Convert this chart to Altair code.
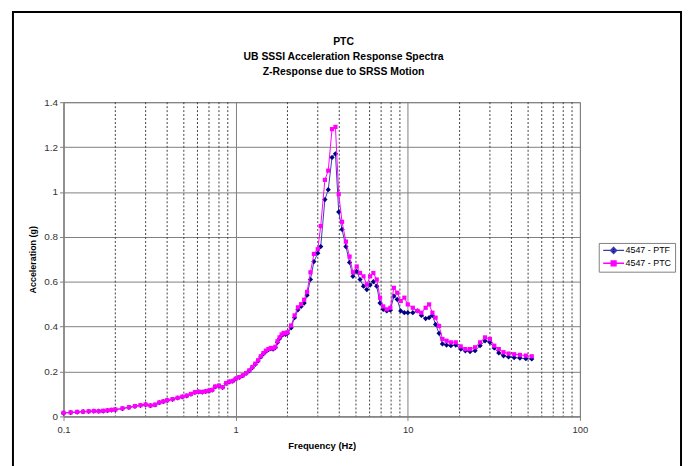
import altair as alt
import pandas as pd

freq = [0.10, 0.11, 0.12, 0.13, 0.14, 0.15, 0.16, 0.17, 0.18, 0.19,
        0.20, 0.22, 0.24, 0.26, 0.28, 0.30, 0.32, 0.34, 0.36, 0.38,
        0.40, 0.43, 0.46, 0.49, 0.52, 0.55, 0.58, 0.61, 0.64, 0.67,
        0.70, 0.73, 0.76, 0.80, 0.84, 0.88, 0.92, 0.96, 1.00, 1.05,
        1.10, 1.15, 1.20, 1.25, 1.30, 1.35, 1.40, 1.45, 1.50, 1.55,
        1.60, 1.65, 1.70, 1.75, 1.80, 1.85, 1.90, 1.95, 2.00, 2.10,
        2.20, 2.30, 2.40, 2.50, 2.60, 2.72, 2.85, 3.00, 3.12, 3.30,
        3.45, 3.63, 3.80, 3.97, 4.15, 4.37, 4.59, 4.80, 5.05, 5.28,
        5.53, 5.78, 6.04, 6.31, 6.60, 6.90, 7.20, 7.55, 7.92, 8.30,
        8.68, 9.10, 9.55, 10.0, 10.7, 11.4, 12.0, 12.7, 13.3, 13.9,
        14.5, 15.2, 15.9, 16.8, 17.8, 19.0, 20.3, 21.6, 23.0, 24.6,
        26.3, 28.1, 30.0, 31.8, 33.8, 36.0, 38.5, 41.5, 44.8, 48.5, 52.5]

ptc = [0.016, 0.018, 0.020, 0.021, 0.023, 0.024, 0.023, 0.025, 0.027, 0.029,
       0.031, 0.036, 0.041, 0.046, 0.050, 0.053, 0.049, 0.052, 0.062, 0.067,
       0.072, 0.077, 0.083, 0.088, 0.093, 0.100, 0.108, 0.110, 0.109, 0.112,
       0.115, 0.118, 0.133, 0.137, 0.130, 0.148, 0.155, 0.158, 0.168, 0.175,
       0.183, 0.193, 0.205, 0.220, 0.235, 0.250, 0.268, 0.282, 0.293, 0.300,
       0.305, 0.303, 0.310, 0.335, 0.352, 0.365, 0.372, 0.370, 0.375, 0.405,
       0.450, 0.486, 0.500, 0.520, 0.555, 0.642, 0.724, 0.745, 0.848, 1.054,
       1.095, 1.280, 1.290, 0.990, 0.867, 0.779, 0.712, 0.642, 0.668, 0.639,
       0.624, 0.587, 0.624, 0.639, 0.610, 0.529, 0.490, 0.477, 0.484, 0.573,
       0.551, 0.514, 0.529, 0.499, 0.484, 0.470, 0.462, 0.484, 0.499, 0.462,
       0.440, 0.403, 0.345, 0.337, 0.330, 0.330, 0.312, 0.300, 0.300, 0.308,
       0.330, 0.352, 0.345, 0.315, 0.300, 0.286, 0.280, 0.277, 0.274, 0.271, 0.268]

ptf = [0.015, 0.017, 0.019, 0.021, 0.022, 0.023, 0.023, 0.024, 0.026, 0.028,
       0.030, 0.035, 0.040, 0.045, 0.049, 0.052, 0.048, 0.051, 0.061, 0.066,
       0.071, 0.076, 0.082, 0.087, 0.092, 0.099, 0.107, 0.109, 0.108, 0.111,
       0.114, 0.117, 0.132, 0.136, 0.129, 0.147, 0.154, 0.157, 0.167, 0.174,
       0.182, 0.192, 0.203, 0.217, 0.232, 0.247, 0.265, 0.279, 0.290, 0.297,
       0.302, 0.300, 0.307, 0.330, 0.347, 0.360, 0.367, 0.365, 0.370, 0.395,
       0.440, 0.475, 0.490, 0.505, 0.540, 0.610, 0.690, 0.727, 0.757, 0.966,
       1.010, 1.154, 1.170, 0.911, 0.833, 0.757, 0.686, 0.624, 0.646, 0.610,
       0.580, 0.565, 0.585, 0.600, 0.580, 0.505, 0.477, 0.470, 0.473, 0.536,
       0.521, 0.470, 0.462, 0.462, 0.462, 0.470, 0.450, 0.436, 0.440, 0.450,
       0.410, 0.370, 0.323, 0.318, 0.315, 0.318, 0.300, 0.292, 0.289, 0.293,
       0.315, 0.337, 0.330, 0.305, 0.283, 0.270, 0.265, 0.262, 0.260, 0.257, 0.256]

series_names = ["4547 - PTF", "4547 - PTC"]
x_major = [0.1, 1, 10, 100]
x_minor = [0.2, 0.3, 0.4, 0.5, 0.6, 0.7, 0.8, 0.9,
           2, 3, 4, 5, 6, 7, 8, 9,
           20, 30, 40, 50, 60, 70, 80, 90]
y_ticks = [0, 0.2, 0.4, 0.6, 0.8, 1.0, 1.2, 1.4]
title_lines = ["PTC", "UB SSSI Acceleration Response Spectra", "Z-Response due to SRSS Motion"]

df = pd.DataFrame({
    "freq": freq + freq,
    "acc": ptf + ptc,
    "series": [series_names[0]] * len(freq) + [series_names[1]] * len(freq),
})

FONT = "Arial, Liberation Sans, sans-serif"

x_scale = alt.Scale(type="log", domain=[0.1, 100], nice=False)
y_scale = alt.Scale(domain=[0, 1.4], nice=False, zero=True)

x_axis = alt.Axis(values=x_major, format="~g", title="Frequency (Hz)", grid=True,
                  gridColor="#808080", gridWidth=1, domainColor="#808080",
                  tickColor="#808080", tickSize=4, labelFont=FONT, labelFontSize=9.5,
                  labelColor="#333333", labelPadding=4, titleFont=FONT,
                  titleFontSize=9.5, titleFontWeight="bold", titleColor="black",
                  titlePadding=7, labelFlush=False)
y_axis = alt.Axis(values=y_ticks, format="~g", title="Acceleration (g)", grid=True,
                  gridColor="#808080", gridWidth=1, domainColor="#808080",
                  tickColor="#808080", tickSize=4, labelFont=FONT, labelFontSize=10,
                  labelColor="#333333", labelPadding=2, titleFont=FONT,
                  titleFontSize=9, titleFontWeight="bold", titleColor="black",
                  titlePadding=6)

X = alt.X("freq:Q", scale=x_scale, axis=x_axis)
Y = alt.Y("acc:Q", scale=y_scale, axis=y_axis)

minor = alt.Chart(pd.DataFrame({"freq": x_minor})).mark_rule(
    color="#404040", strokeWidth=1, strokeDash=[2, 2]
).encode(x=alt.X("freq:Q", scale=x_scale, axis=x_axis))

def line_layer(name, color):
    return alt.Chart(df).transform_filter(alt.datum.series == name).mark_line(
        color=color, strokeWidth=1
    ).encode(x=X, y=Y)

ptf_line = line_layer(series_names[0], "#3c3cb0")
ptf_pts = alt.Chart(df).transform_filter(alt.datum.series == series_names[0]).mark_point(
    shape="diamond", filled=True, color="#000080", size=28, opacity=1
).encode(x=X, y=Y)
ptc_line = line_layer(series_names[1], "#ff00ff")
ptc_pts = alt.Chart(df).transform_filter(alt.datum.series == series_names[1]).mark_point(
    shape="square", filled=True, color="#ff00ff", size=18, opacity=1
).encode(x=X, y=Y)

path_ptf = "M-1,0H6M2.5,-1L3.5,0L2.5,1L1.5,0Z"
path_ptc = "M-1,0H6M1.7,-0.8H3.3V0.8H1.7Z"

leg = alt.Legend(orient="none", legendX=540, legendY=142, title=None, padding=3,
                 strokeColor="#808080", fillColor="white", labelFont=FONT,
                 labelFontSize=9, labelColor="black", symbolSize=36,
                 labelOffset=15, rowPadding=1, symbolStrokeWidth=1.5)

legend_layer = alt.Chart(df).transform_filter("false").mark_point(
    filled=True, strokeWidth=1.5, opacity=1
).encode(
    x=X, y=Y,
    fill=alt.Fill("series:N", scale=alt.Scale(domain=series_names, range=["#000080", "#ff00ff"]), legend=leg),
    stroke=alt.Stroke("series:N", scale=alt.Scale(domain=series_names, range=["#3c3cb0", "#ff00ff"]), legend=leg),
    shape=alt.Shape("series:N", scale=alt.Scale(domain=series_names, range=[path_ptf, path_ptc]), legend=leg),
)

frame = alt.Chart(pd.DataFrame({"k": [0]})).mark_rect(
    filled=False, stroke="black", strokeWidth=2
).encode(x=alt.value(-51), x2=alt.value(623), y=alt.value(-91), y2=alt.value(380))

chart = alt.layer(minor, ptf_line, ptf_pts, ptc_line, ptc_pts, legend_layer, frame).properties(
    width=521, height=317,
    title=alt.Title(title_lines, anchor="middle", font=FONT, fontSize=10.5,
                    fontWeight="bold", color="black", lineHeight=15, offset=22,
                    dx=22, dy=89),
    padding={"left": 56, "top": 93, "right": 104, "bottom": 48},
    autosize=alt.AutoSizeParams(type="none"),
).configure_view(stroke="#808080", strokeWidth=1)

chart.save("out.html", embed_options={"renderer": "svg", "actions": False})
